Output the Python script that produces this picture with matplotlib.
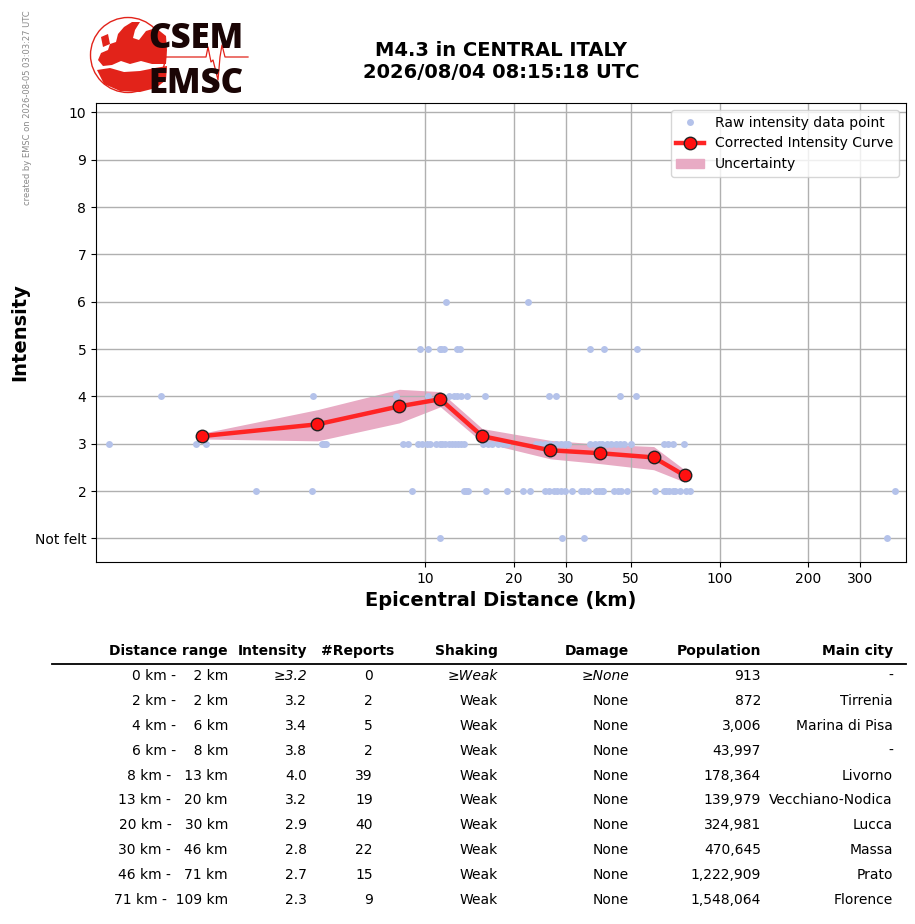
import numpy as np
import matplotlib
matplotlib.use('Agg')
import matplotlib.pyplot as plt
from matplotlib.patches import Circle, Polygon, Patch
from matplotlib.lines import Line2D

# raw intensity reports (epicentral distance in km) per intensity level
raw_notfelt = [11.2, 29.2, 34.5, 370]
raw_int2 = [2.66, 4.13, 9.03, 13.5, 13.7, 14.0, 16.1, 18.9, 21.5, 22.6, 25.6, 26.4,
            27.3, 28.1, 29.0, 29.9, 31.6, 33.7, 34.5, 35.6, 37.9, 38.8, 39.7, 40.2,
            43.6, 45.0, 46.4, 48.3, 60.1, 64.5, 65.9, 67.4, 69.2, 70.8, 73.1, 76.6,
            79.1, 394]
raw_int3 = [0.84, 1.66, 1.80, 4.46, 4.53, 4.60, 8.41, 8.75, 9.47, 9.77, 10.1, 10.4,
            10.9, 11.2, 11.4, 11.7, 12.0, 12.3, 12.6, 12.9, 13.2, 13.5, 15.7, 16.3,
            16.9, 17.6, 18.3, 19.0, 23.7, 24.6, 25.6, 26.6, 27.7, 28.8, 29.9, 30.6,
            36.4, 37.6, 38.8, 39.9, 41.3, 42.6, 44.6, 46.0, 47.5, 49.8, 64.9, 66.9,
            69.7, 75.4]
raw_int4 = [1.26, 4.16, 7.97, 10.2, 11.2, 12.0, 12.5, 12.8, 13.2, 13.9, 15.9, 26.4,
            27.9, 46.0, 51.8]
raw_int5 = [9.62, 10.2, 11.2, 11.3, 11.6, 12.8, 13.1, 36.4, 40.6, 52.2]
raw_int6 = [11.8, 22.4]

# corrected intensity curve with uncertainty
curve_dist = [1.74, 4.30, 8.16, 11.25, 15.6, 26.6, 39.1, 59.7, 76.0]
curve_int = [3.16, 3.41, 3.79, 3.94, 3.16, 2.86, 2.80, 2.71, 2.33]
curve_upper = [3.22, 3.72, 4.15, 4.10, 3.32, 3.07, 2.99, 2.94, 2.45]
curve_lower = [3.10, 3.06, 3.44, 3.78, 3.03, 2.68, 2.58, 2.45, 2.19]

x_ticks = [10, 20, 30, 50, 100, 200, 300]
y_ticks = [1, 2, 3, 4, 5, 6, 7, 8, 9, 10]
y_ticklabels = ['Not felt', '2', '3', '4', '5', '6', '7', '8', '9', '10']

# summary table
dist_lo = [0, 2, 4, 6, 8, 13, 20, 30, 46, 71]
dist_hi = [2, 2, 6, 8, 13, 20, 30, 46, 71, 109]
tab_intensity = ['≥3.2', '3.2', '3.4', '3.8', '4.0', '3.2', '2.9', '2.8', '2.7', '2.3']
tab_reports = [0, 2, 5, 2, 39, 19, 40, 22, 15, 9]
tab_shaking = ['≥Weak', 'Weak', 'Weak', 'Weak', 'Weak', 'Weak', 'Weak', 'Weak', 'Weak', 'Weak']
tab_damage = ['≥None', 'None', 'None', 'None', 'None', 'None', 'None', 'None', 'None', 'None']
tab_population = ['913', '872', '3,006', '43,997', '178,364', '139,979', '324,981',
                  '470,645', '1,222,909', '1,548,064']
tab_city = ['-', 'Tirrenia', 'Marina di Pisa', '-', 'Livorno', 'Vecchiano-Nodica',
            'Lucca', 'Massa', 'Prato', 'Florence']

W, H = 915, 924


def fx(px):
    return px / W


def fy(py):
    return 1 - py / H


fig = plt.figure(figsize=(W / 100, H / 100), dpi=100)

# main plot
ax = fig.add_axes([fx(96), fy(562), fx(906) - fx(96), fy(103) - fy(562)])

raw_d = raw_notfelt + raw_int2 + raw_int3 + raw_int4 + raw_int5 + raw_int6
raw_i = ([1] * len(raw_notfelt) + [2] * len(raw_int2) + [3] * len(raw_int3)
         + [4] * len(raw_int4) + [5] * len(raw_int5) + [6] * len(raw_int6))
ax.plot(raw_d, raw_i, 'o', color='#b4c2ea', ms=5, mew=0, zorder=2,
        label='Raw intensity data point')
ax.fill_between(curve_dist, curve_lower, curve_upper, color='#e8abc4', lw=0, zorder=1)
ax.plot(curve_dist, curve_int, '-o', color='#ff2424', lw=3.2, ms=9,
        mfc='#ff1010', mec='#222222', mew=1, zorder=3,
        label='Corrected Intensity Curve')

ax.set_xscale('log')
ax.set_xlim(0.76, 430)
ax.set_ylim(0.5, 10.2)
ax.set_xticks(x_ticks)
ax.set_xticklabels([str(t) for t in x_ticks])
ax.set_xticks([], minor=True)
ax.set_yticks(y_ticks)
ax.set_yticklabels(y_ticklabels)
ax.tick_params(labelsize=10)
ax.grid(True, color='#b0b0b0', lw=1)
ax.set_xlabel('Epicentral Distance (km)', fontsize=14, fontweight='bold')
ax.set_ylabel('Intensity', fontsize=14, fontweight='bold')

handles = [
    Line2D([], [], ls='none', marker='o', color='#b4c2ea', ms=5, mew=0),
    Line2D([], [], color='#ff2424', lw=3.2, marker='o', ms=9, mfc='#ff1010', mec='#222222'),
    Patch(color='#e8abc4'),
]
ax.legend(handles, ['Raw intensity data point', 'Corrected Intensity Curve', 'Uncertainty'],
          loc='upper right', fontsize=10)

# title and stamp
fig.text(fx(501), fy(61), 'M4.3 in CENTRAL ITALY\n2026/08/04 08:15:18 UTC',
         ha='center', va='center', fontsize=14, fontweight='bold')
fig.text(fx(28), fy(108), 'created by EMSC on 2026-08-05 03:03:27 UTC',
         rotation=90, ha='center', va='center', fontsize=6, color='#888888')

# logo
red = '#e2231a'
lax = fig.add_axes([fx(80), fy(100), fx(260) - fx(80), fy(10) - fy(100)])
lax.set_xlim(80, 260)
lax.set_ylim(100, 10)
lax.axis('off')
lax.add_patch(Circle((128, 55), 37.5, fill=False, ec=red, lw=1))
europe = [(98, 60), (101, 53), (108, 50), (110, 44), (116, 42), (118, 34), (124, 27),
          (132, 22), (140, 22), (135, 30), (133, 38), (139, 40), (146, 31), (156, 28),
          (166, 36), (167, 50), (166, 64), (152, 64), (141, 61), (130, 64), (121, 61),
          (112, 65), (103, 66)]
africa = [(97, 70), (110, 68), (124, 72), (140, 71), (155, 68), (167, 66), (166, 80),
          (156, 88), (140, 92), (120, 91), (104, 84)]
britain = [(101, 37), (108, 34), (110, 44), (103, 47)]
for shape in (europe, africa, britain):
    lax.add_patch(Polygon(shape, closed=True, fc=red, ec='none'))
seis_x = [160, 206, 208, 211, 213, 215, 218, 220, 222, 225, 248]
seis_y = [57, 57, 47, 62, 60, 68, 80, 57, 45, 57, 57]
lax.plot(seis_x, seis_y, color=red, lw=0.9)
lax.text(148, 48, 'CSEM', fontsize=25, fontweight='heavy', color='#1a0505',
         family=['Open Sans', 'DejaVu Sans'], ha='left', va='baseline')
lax.text(148, 93, 'EMSC', fontsize=25, fontweight='heavy', color='#1a0505',
         family=['Open Sans', 'DejaVu Sans'], ha='left', va='baseline')

# table
headers = ['Distance range', 'Intensity', '#Reports', 'Shaking', 'Damage', 'Population', 'Main city']
header_right = [228, 307, 394, 498, 629, 761, 893]
for h, r in zip(headers, header_right):
    fig.text(fx(r), fy(651), h, ha='right', va='center', fontsize=10, fontweight='bold')
fig.add_artist(Line2D([fx(52), fx(906)], [fy(664), fy(664)], color='black', lw=1.3))

for i in range(len(dist_lo)):
    y = fy(676 + i * 24.9)
    style = 'italic' if i == 0 else 'normal'
    fig.text(fx(228), y, f'{dist_lo[i]} km - {dist_hi[i]:>4} km', ha='right', va='center', fontsize=10)
    fig.text(fx(307), y, tab_intensity[i], ha='right', va='center', fontsize=10, style=style)
    fig.text(fx(373), y, str(tab_reports[i]), ha='right', va='center', fontsize=10)
    fig.text(fx(498), y, tab_shaking[i], ha='right', va='center', fontsize=10, style=style)
    fig.text(fx(629), y, tab_damage[i], ha='right', va='center', fontsize=10, style=style)
    fig.text(fx(761), y, tab_population[i], ha='right', va='center', fontsize=10)
    fig.text(fx(893), y, tab_city[i], ha='right', va='center', fontsize=10)

fig.savefig('out.png', dpi=100)
plt.close(fig)
